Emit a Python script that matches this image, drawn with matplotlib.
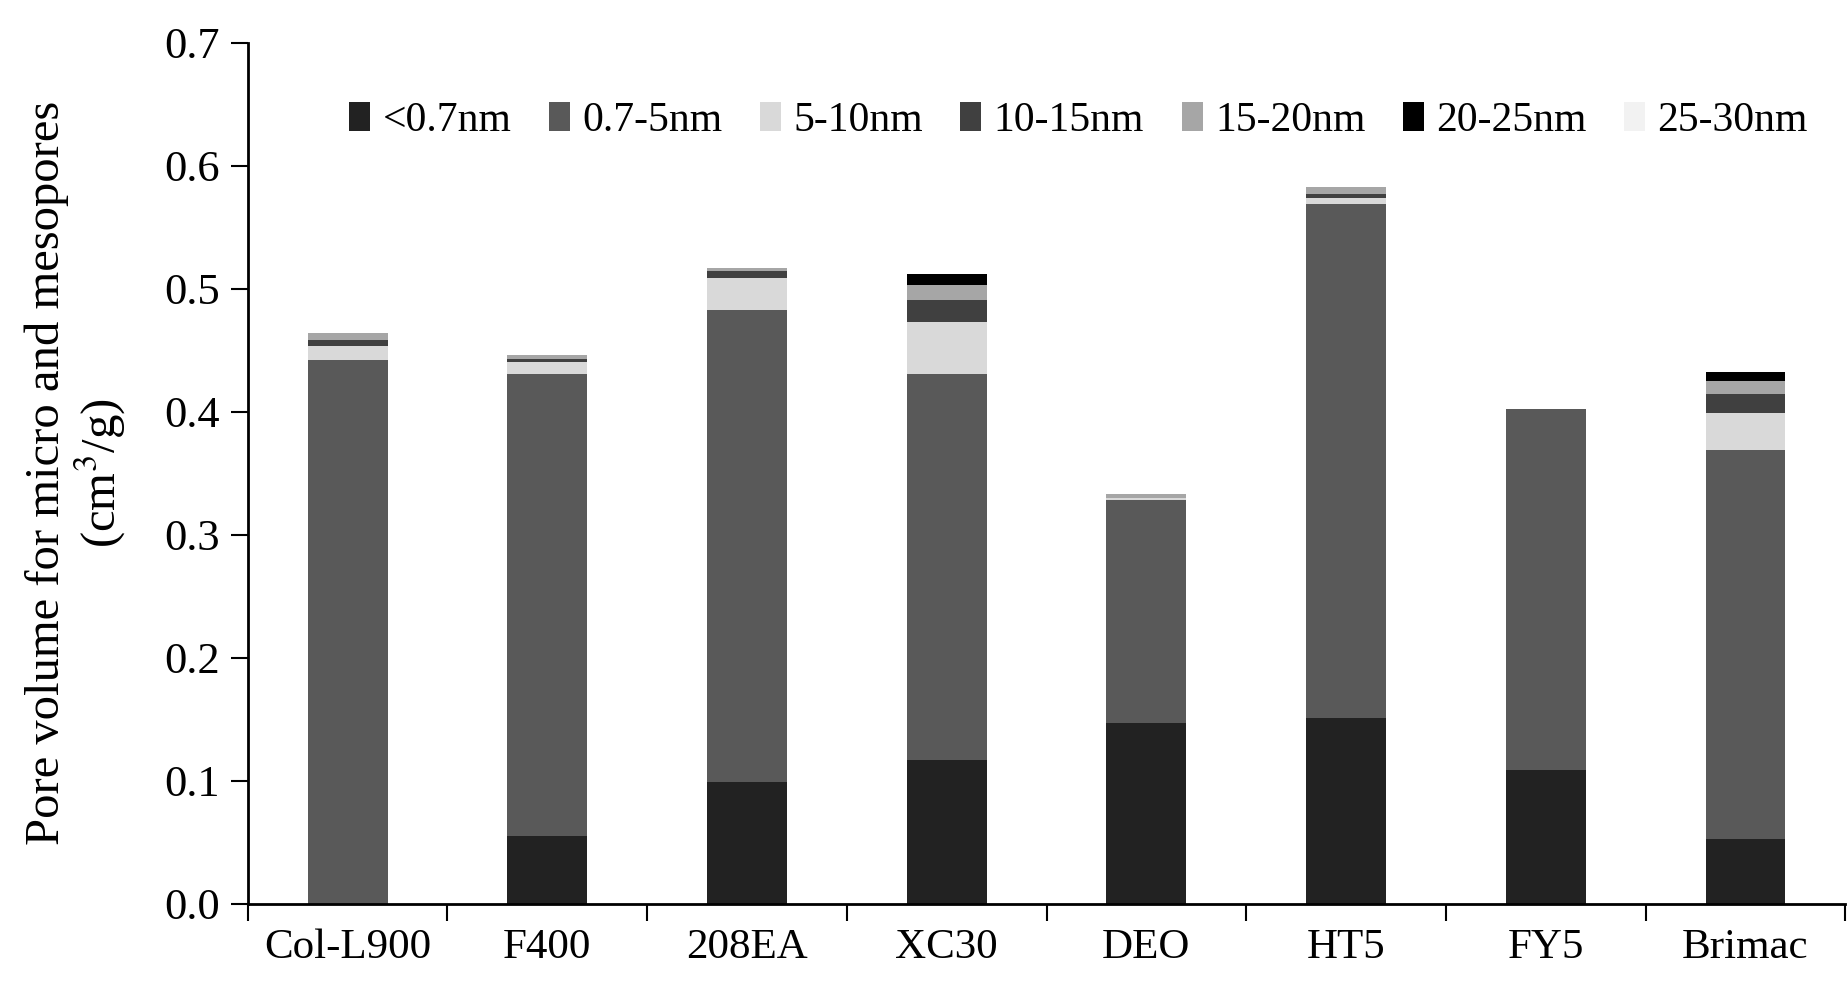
import numpy as np
import matplotlib
matplotlib.use("Agg")
import matplotlib.pyplot as plt

plt.rcParams['font.family'] = ['Liberation Serif', 'DejaVu Serif']
plt.rcParams['mathtext.fontset'] = 'stix'

samples = ["Col-L900", "F400", "208EA", "XC30", "DEO", "HT5", "FY5", "Brimac"]
pore_ranges = ["<0.7nm", "0.7-5nm", "5-10nm", "10-15nm", "15-20nm", "20-25nm", "25-30nm"]

# pore volume per size range (cm3/g)
v_lt07 = [0.000, 0.055, 0.099, 0.117, 0.147, 0.151, 0.109, 0.053]
v_07_5 = [0.442, 0.376, 0.384, 0.314, 0.181, 0.418, 0.293, 0.316]
v_5_10 = [0.011, 0.009, 0.026, 0.042, 0.002, 0.005, 0.000, 0.030]
v_10_15 = [0.005, 0.003, 0.005, 0.018, 0.000, 0.003, 0.000, 0.015]
v_15_20 = [0.006, 0.003, 0.003, 0.012, 0.003, 0.006, 0.000, 0.011]
v_20_25 = [0.000, 0.000, 0.000, 0.009, 0.000, 0.000, 0.000, 0.007]
v_25_30 = [0.000, 0.000, 0.000, 0.000, 0.000, 0.000, 0.000, 0.000]

series = [v_lt07, v_07_5, v_5_10, v_10_15, v_15_20, v_20_25, v_25_30]
colors = ["#222222", "#595959", "#d9d9d9", "#404040", "#a6a6a6", "#000000", "#f2f2f2"]

fig = plt.figure(figsize=(18.49, 9.89), dpi=100)
ax = fig.add_axes([0.134, 0.086, 0.864, 0.871])

x = np.arange(len(samples)) + 0.5
bottom = np.zeros(len(samples))
for name, vals, c in zip(pore_ranges, series, colors):
    vals = np.array(vals)
    ax.bar(x, vals, width=0.4, bottom=bottom, color=c, label=name, linewidth=0)
    bottom += vals

ax.set_xlim(0, len(samples))
ax.set_ylim(0, 0.7)
ax.set_yticks(np.arange(0, 0.71, 0.1))
ax.set_yticklabels(["%.1f" % v for v in np.arange(0, 0.71, 0.1)], fontsize=32)

# category labels centred, tick marks between categories
ax.set_xticks(x)
ax.set_xticklabels(samples, fontsize=31)
ax.tick_params(axis='x', which='major', length=0, pad=18)
ax.set_xticks(np.arange(0, len(samples) + 1), minor=True)
ax.tick_params(axis='x', which='minor', length=12, width=1.5, direction='out')
ax.tick_params(axis='y', length=12, width=1.5, direction='out', pad=8)

for s in ["top", "right"]:
    ax.spines[s].set_visible(False)
for s in ["left", "bottom"]:
    ax.spines[s].set_linewidth(2)

ax.set_ylabel("Pore volume for micro and mesopores\n(cm$^3$/g)", fontsize=35, labelpad=26,
              linespacing=1.1)

ax.legend(loc="upper right", bbox_to_anchor=(1.0, 0.975), ncol=7, frameon=False, fontsize=30,
          handlelength=0.5, handleheight=0.7, handletextpad=0.3, columnspacing=0.9)

fig.savefig("out.png", dpi=100)
